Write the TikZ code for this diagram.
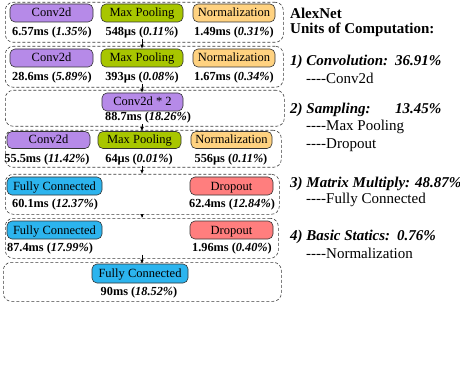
\documentclass[tikz,border=0pt]{standalone}
\usepackage{fontspec}
\setmainfont{Liberation Serif}
\usetikzlibrary{arrows.meta}
\definecolor{cpurple}{RGB}{182,138,232}
\definecolor{cgreen}{RGB}{168,198,0}
\definecolor{corange}{RGB}{255,210,128}
\definecolor{cblue}{RGB}{44,180,238}
\definecolor{cred}{RGB}{255,126,126}
\definecolor{cdash}{RGB}{60,60,60}
\newcommand\mydashes{-\kern0pt-\kern0pt-\kern0pt-\kern0pt}
\tikzset{
  rowbox/.style={draw=cdash, line width=0.6pt, dash pattern=on 3pt off 2pt, rounded corners=8pt, anchor=north west, inner sep=0pt},
  opbox/.style={draw=black!80, line width=0.6pt, rounded corners=5pt, inner sep=0pt, text height=9.5pt, text depth=1.5pt, font=\fontsize{12.5}{14}\selectfont},
  vlab/.style={inner sep=0pt, font=\fontsize{12.3}{14}\selectfont\bfseries},
  rtxt/.style={anchor=west, inner sep=0pt, font=\fontsize{15}{17}\selectfont},
  arr/.style={-{Latex[length=4pt,width=3.5pt]}, line width=0.6pt, black},
}
\begin{document}
\begin{tikzpicture}[x=1pt,y=-1pt]
\useasboundingbox (0,0) rectangle (460,366);
% row boxes
\node[rowbox, minimum width=278pt, minimum height=40pt] (r1) at (5,2) {};
\node[rowbox, minimum width=278pt, minimum height=41pt] (r2) at (5,46) {};
\node[rowbox, minimum width=279pt, minimum height=36pt] (r3) at (5,90) {};
\node[rowbox, minimum width=276pt, minimum height=37pt] (r4) at (5,130) {};
\node[rowbox, minimum width=274pt, minimum height=40pt] (r5) at (5,174) {};
\node[rowbox, minimum width=273pt, minimum height=40pt] (r6) at (5,218) {};
\node[rowbox, minimum width=278pt, minimum height=39pt] (r7) at (3,262) {};
% row 1
\node[opbox, fill=cpurple, minimum width=83pt, minimum height=18pt] (c1) at (51.5,13) {Conv2d};
\node[opbox, fill=cgreen, minimum width=82pt, minimum height=18pt] (mp1) at (142,13) {Max Pooling};
\node[opbox, fill=corange, minimum width=82pt, minimum height=18pt] (n1) at (234,13) {Normalization};
\node[vlab] (l1a) at (52,33) {6.57ms (\textit{1.35\%})};
\node[vlab] (l1b) at (142,33) {548µs (\textit{0.11\%})};
\node[vlab] (l1c) at (234,33) {1.49ms (\textit{0.31\%})};
% row 2
\node[opbox, fill=cpurple, minimum width=83pt, minimum height=18pt] (c2) at (51.5,58) {Conv2d};
\node[opbox, fill=cgreen, minimum width=82pt, minimum height=18pt] (mp2) at (142,58) {Max Pooling};
\node[opbox, fill=corange, minimum width=82pt, minimum height=18pt] (n2) at (234,58) {Normalization};
\node[vlab] (l2a) at (52,78) {28.6ms (\textit{5.89\%})};
\node[vlab] (l2b) at (142,78) {393µs (\textit{0.08\%})};
\node[vlab] (l2c) at (234,78) {1.67ms (\textit{0.34\%})};
% row 3
\node[opbox, fill=cpurple, minimum width=81pt, minimum height=18pt] (c3) at (142.5,102) {Conv2d * 2};
\node[vlab] (l3) at (148,118) {88.7ms (\textit{18.26\%})};
% row 4
\node[opbox, fill=cpurple, minimum width=83pt, minimum height=17pt] (c4) at (48.5,140) {Conv2d};
\node[opbox, fill=cgreen, minimum width=83pt, minimum height=17pt] (mp4) at (139.5,140) {Max Pooling};
\node[opbox, fill=corange, minimum width=81pt, minimum height=17pt] (n4) at (231.5,140) {Normalization};
\node[vlab] (l4a) at (47,160) {55.5ms (\textit{11.42\%})};
\node[vlab] (l4b) at (139,160) {64µs (\textit{0.01\%})};
\node[vlab] (l4c) at (231,160) {556µs (\textit{0.11\%})};
% row 5
\node[opbox, fill=cblue, minimum width=95pt, minimum height=18pt] (fc5) at (54.5,186) {Fully Connected};
\node[opbox, fill=cred, minimum width=83pt, minimum height=18pt] (d5) at (231.5,186) {Dropout};
\node[vlab] (l5a) at (55,205) {60.1ms (\textit{12.37\%})};
\node[vlab] (l5b) at (232,205) {62.4ms (\textit{12.84\%})};
% row 6
\node[opbox, fill=cblue, minimum width=95pt, minimum height=18pt] (fc6) at (54.5,230) {Fully Connected};
\node[opbox, fill=cred, minimum width=83pt, minimum height=18pt] (d6) at (231.5,230) {Dropout};
\node[vlab] (l6a) at (50,249) {87.4ms (\textit{17.99\%})};
\node[vlab] (l6b) at (232,249) {1.96ms (\textit{0.40\%})};
% row 7
\node[opbox, fill=cblue, minimum width=96pt, minimum height=19pt] (fc7) at (140,273.5) {Fully Connected};
\node[vlab] (l7) at (139,293) {90ms (\textit{18.52\%})};
% arrows
\coordinate (ax) at (142,0);
\draw[arr] (l1b.south -| ax) -- (mp2.north -| ax);
\draw[arr] (l2b.south -| ax) -- (c3.north -| ax);
\draw[arr] (l3.south -| ax) -- (mp4.north -| ax);
\draw[arr] (l4b.south -| ax) -- (r5.north -| ax);
\draw[arr, shorten <=-2pt] (r5.south -| ax) -- (r6.north -| ax);
\draw[arr, shorten <=-4pt] (r6.south -| ax) -- (fc7.north -| ax);
% right text
\node[rtxt, font=\fontsize{15}{17}\selectfont\bfseries] (t1) at (290,13) {AlexNet};
\node[rtxt, font=\fontsize{15}{17}\selectfont\bfseries] (t2) at (290,30) {Units of Computation:};
\node[rtxt, font=\fontsize{15}{17}\selectfont\bfseries\itshape] (t3) at (290,62) {\makebox[105pt][l]{1) Convolution:}36.91\%};
\node[rtxt] (t4) at (306,78) {\mydashes Conv2d};
\node[rtxt, font=\fontsize{15}{17}\selectfont\bfseries\itshape] (t5) at (290,110) {\makebox[105pt][l]{2) Sampling:}13.45\%};
\node[rtxt] (t6) at (306,127) {\mydashes Max Pooling};
\node[rtxt] (t7) at (306,145) {\mydashes Dropout};
\node[rtxt, font=\fontsize{15}{17}\selectfont\bfseries\itshape] (t8) at (290,184) {3) Matrix Multiply: 48.87\%};
\node[rtxt] (t9) at (306,200) {\mydashes Fully Connected};
\node[rtxt, font=\fontsize{15}{17}\selectfont\bfseries\itshape] (t10) at (290,237) {4) Basic Statics:\hspace{7pt}0.76\%};
\node[rtxt] (t11) at (306,253) {\mydashes Normalization};
\end{tikzpicture}
\end{document}
